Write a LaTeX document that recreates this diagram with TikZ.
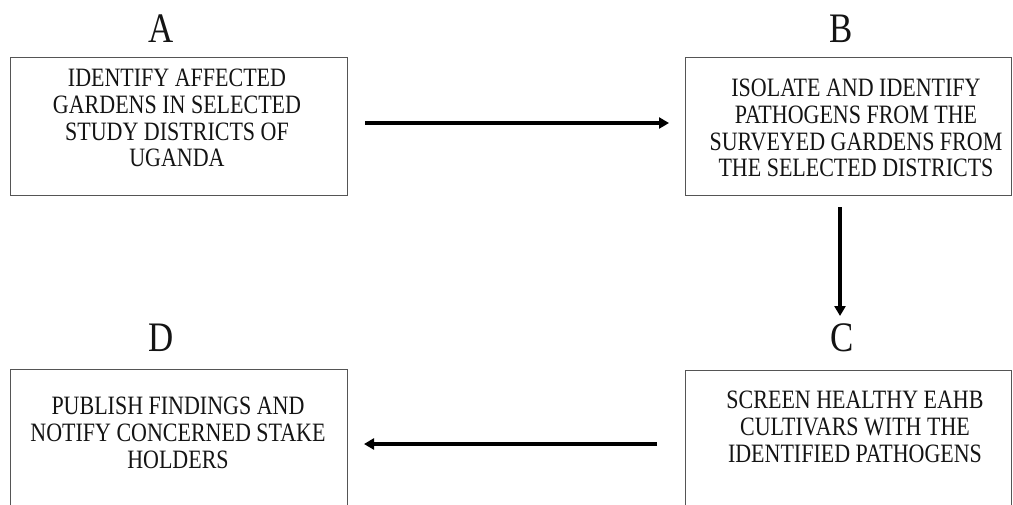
\documentclass[tikz,border=0pt]{standalone}
\usepackage{fontspec}
\setmainfont{Liberation Serif}[FakeStretch=0.83]
\usetikzlibrary{arrows.meta}
\definecolor{boxline}{HTML}{555555}
\definecolor{ink}{HTML}{141414}
\tikzset{
  stepbox/.style={draw=boxline, line width=1.1pt, anchor=north west, inner sep=0pt},
  boxtext/.style={text=ink, align=center, font=\fontsize{26.5}{26.7}\selectfont, inner sep=0pt, anchor=north},
  letter/.style={text=ink, font=\fontsize{42}{42}\selectfont, inner sep=0pt},
  arr/.style={line width=3.2pt, -{Triangle[length=10pt,width=11pt]}, draw=black}
}
\begin{document}
\begin{tikzpicture}[x=1pt,y=-1pt]
\useasboundingbox (0,0) rectangle (1013,504);
\fill[white] (0,0) rectangle (1013,504);
% boxes
\node[stepbox, minimum width=337pt, minimum height=138pt] (A) at (10,57) {};
\node[stepbox, minimum width=326pt, minimum height=138pt] (B) at (685,57) {};
\node[stepbox, minimum width=326pt, minimum height=160pt] (C) at (685,370) {};
\node[stepbox, minimum width=337pt, minimum height=160pt] (D) at (10,369) {};
% texts
\node[boxtext] (tA) at (177,69) {IDENTIFY AFFECTED\\GARDENS IN SELECTED\\STUDY DISTRICTS OF\\UGANDA};
\node[boxtext] (tB) at (856,79) {ISOLATE AND IDENTIFY\\PATHOGENS FROM THE\\SURVEYED GARDENS FROM\\THE SELECTED DISTRICTS};
\node[boxtext] (tC) at (855,391) {SCREEN HEALTHY EAHB\\CULTIVARS WITH THE\\IDENTIFIED PATHOGENS};
\node[boxtext] (tD) at (178,397) {PUBLISH FINDINGS AND\\NOTIFY CONCERNED STAKE\\HOLDERS};
% letters
\node[letter] (lA) at (161,29) {A};
\node[letter] (lB) at (841,29) {B};
\node[letter] (lC) at (842,338) {C};
\node[letter] (lD) at (161,338) {D};
% arrows
\coordinate (a1) at (365,123);
\coordinate (a2) at (669,123);
\coordinate (b1) at (840,207);
\coordinate (b2) at (840,316);
\coordinate (c1) at (657,444);
\coordinate (c2) at (364,444);
\draw[arr] (a1) -- (a2);
\draw[arr] (b1) -- (b2);
\draw[arr] (c1) -- (c2);
\end{tikzpicture}
\end{document}
